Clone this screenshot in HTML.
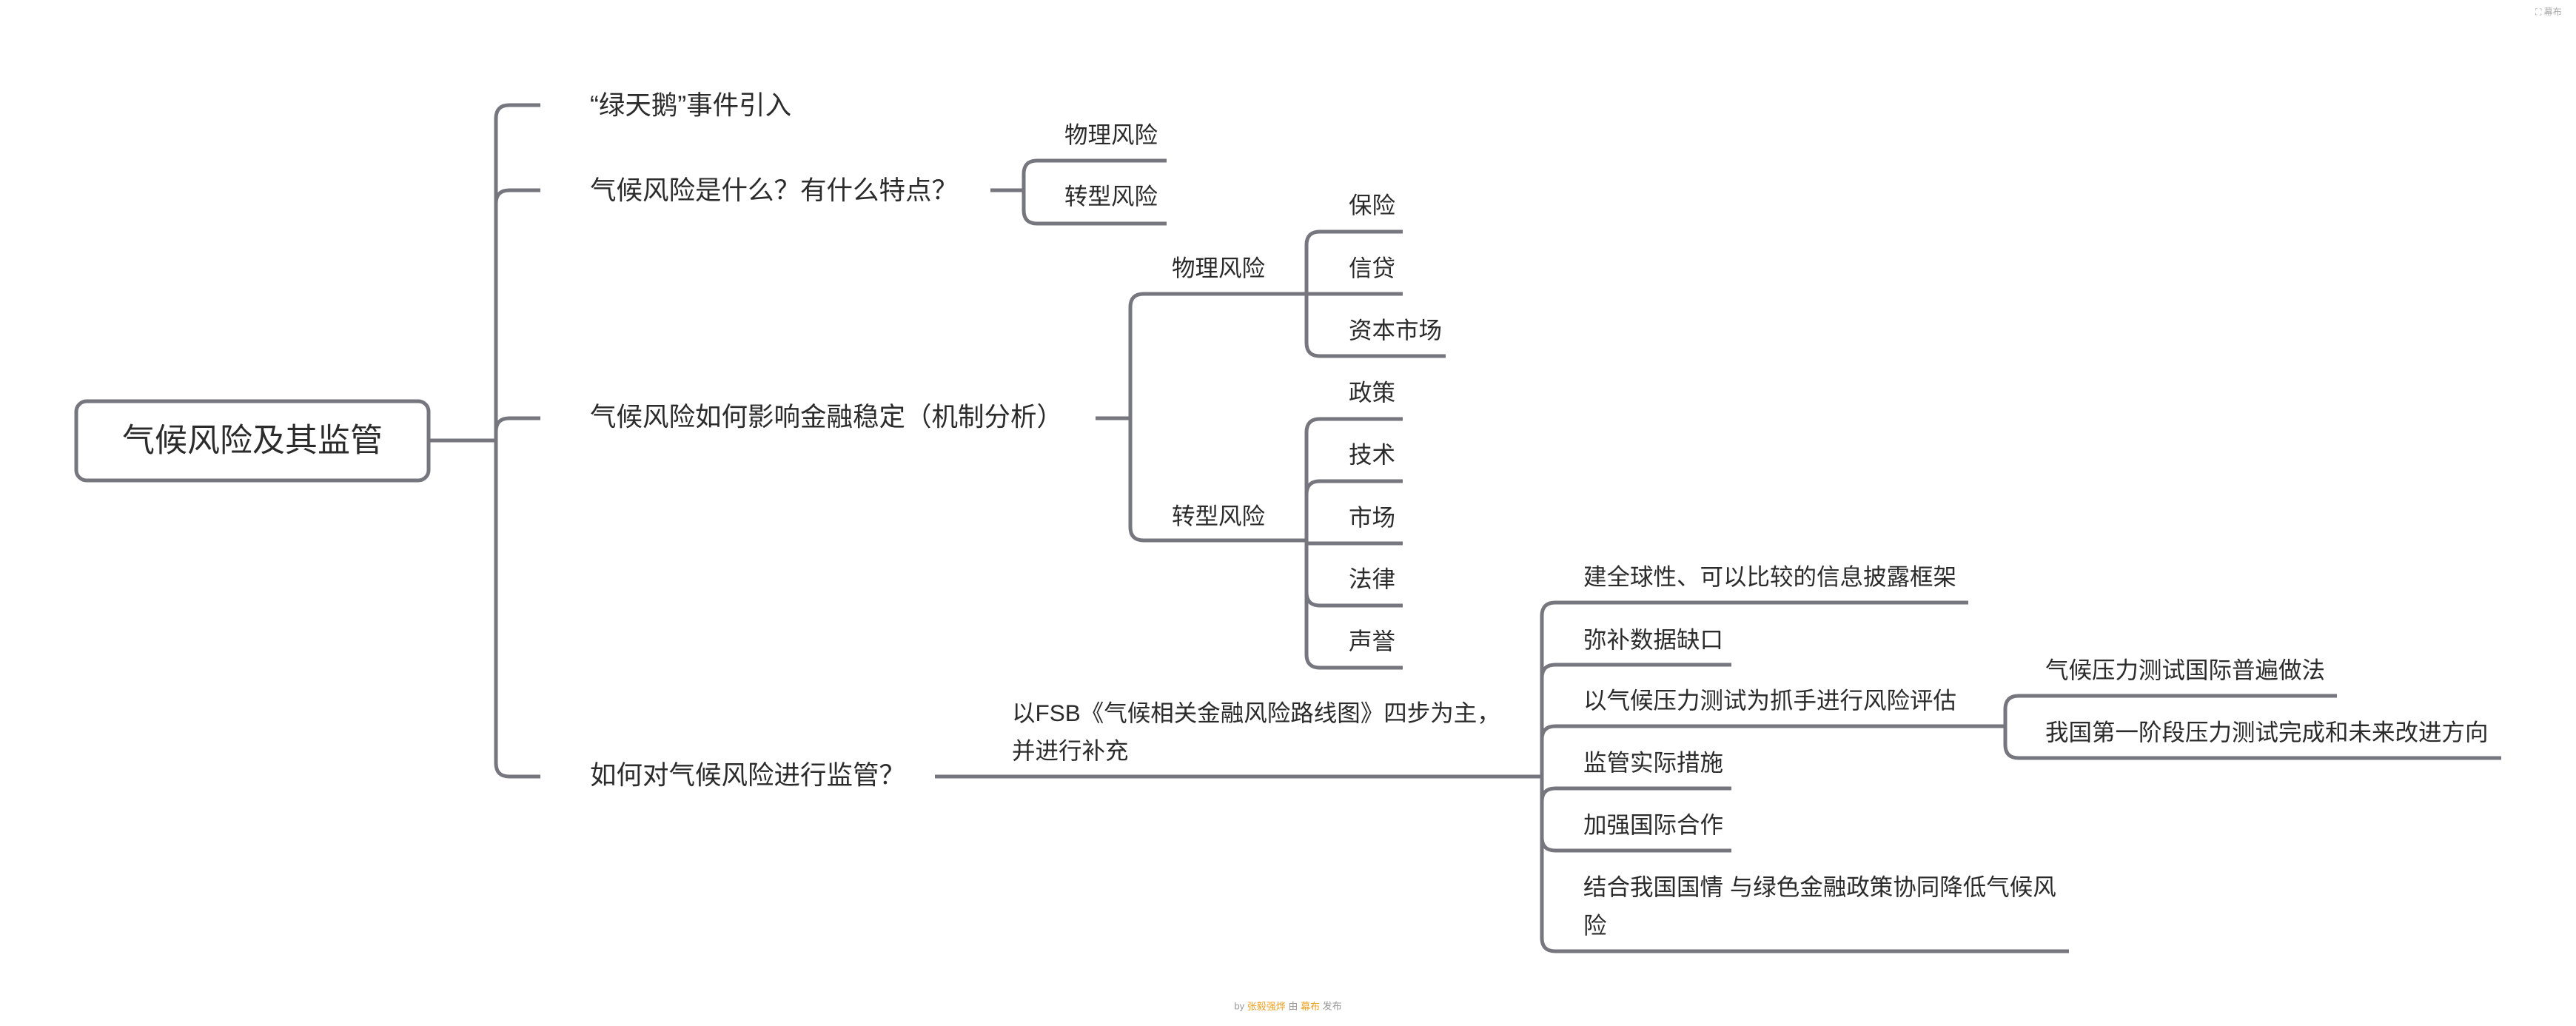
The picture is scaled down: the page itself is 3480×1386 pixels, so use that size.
<!DOCTYPE html>
<html><head><meta charset="utf-8"><style>
html,body{margin:0;padding:0;background:#fff;width:3480px;height:1386px;overflow:hidden}
svg{display:block}
text{font-family:"Liberation Sans","Noto Sans CJK SC",sans-serif;fill:#2b2b2b;dominant-baseline:central}
.l1{font-size:35.5px}.l2{font-size:31.5px}
path,line{stroke:#76767e;stroke-width:5;fill:none}
</style></head><body>
<svg width="3480" height="1386" viewBox="0 0 3480 1386">
<g transform="translate(0,2)">
<rect x="103" y="540" width="476" height="107" rx="14" fill="#fff" stroke="#76767e" stroke-width="5"/>
<text x="341" y="593" font-size="44" text-anchor="middle">气候风险及其监管</text>
<path d="M579,593 H670"/>
<path d="M670,593 V158 Q670,140 688,140 H730"/>
<path d="M670,593 V273 Q670,255 688,255 H730"/>
<path d="M670,593 V581 Q670,563 688,563 H730"/>
<path d="M670,593 V1029 Q670,1047 688,1047 H730"/>
<text class="l1" x="797" y="140">“绿天鹅”事件引入</text>
<text class="l1" x="797" y="255">气候风险是什么？有什么特点？</text>
<text class="l1" x="797" y="561">气候风险如何影响金融稳定（机制分析）</text>
<text class="l1" x="797" y="1045">如何对气候风险进行监管？</text>

<path d="M1338,255 H1383"/>
<path d="M1383,255 V233 Q1383,215 1401,215 H1576"/>
<path d="M1383,255 V282 Q1383,300 1401,300 H1576"/>
<text class="l2" x="1438" y="180">物理风险</text>
<text class="l2" x="1438" y="263">转型风险</text>

<path d="M1480,563 H1527"/>
<path d="M1527,563 V413 Q1527,395 1545,395 H1765"/>
<path d="M1527,563 V710 Q1527,728 1545,728 H1765"/>
<text class="l2" x="1583" y="360">物理风险</text>
<text class="l2" x="1583" y="695">转型风险</text>
<path d="M1765,395 V329 Q1765,311 1783,311 H1895"/>
<path d="M1765,395 H1895"/>
<path d="M1765,395 V461 Q1765,479 1783,479 H1953"/>
<text class="l2" x="1822" y="275">保险</text>
<text class="l2" x="1822" y="360">信贷</text>
<text class="l2" x="1822" y="444">资本市场</text>
<path d="M1765,728 V582 Q1765,564 1783,564 H1895"/>
<path d="M1765,728 V666 Q1765,648 1783,648 H1895"/>
<path d="M1765,728 V732 H1895"/>
<path d="M1765,728 V798 Q1765,816 1783,816 H1895"/>
<path d="M1765,728 V882 Q1765,900 1783,900 H1895"/>
<text class="l2" x="1822" y="528">政策</text>
<text class="l2" x="1822" y="612">技术</text>
<text class="l2" x="1822" y="697">市场</text>
<text class="l2" x="1822" y="780">法律</text>
<text class="l2" x="1822" y="864">声誉</text>

<path d="M1263,1047 H2083"/>
<text class="l2" x="1367" y="961">以FSB《气候相关金融风险路线图》四步为主，</text>
<text class="l2" x="1367" y="1012">并进行补充</text>
<path d="M2083,1047 V830 Q2083,812 2101,812 H2659"/>
<path d="M2083,1047 V914 Q2083,896 2101,896 H2339"/>
<path d="M2083,1047 V997 Q2083,979 2101,979 H2709"/>
<path d="M2083,1047 V1081 Q2083,1063 2101,1063 H2339"/>
<path d="M2083,1047 V1129 Q2083,1147 2101,1147 H2339"/>
<path d="M2083,1047 V1265 Q2083,1283 2101,1283 H2795"/>
<text class="l2" x="2139" y="777">建全球性、可以比较的信息披露框架</text>
<text class="l2" x="2139" y="862">弥补数据缺口</text>
<text class="l2" x="2139" y="944">以气候压力测试为抓手进行风险评估</text>
<text class="l2" x="2139" y="1028">监管实际措施</text>
<text class="l2" x="2139" y="1112">加强国际合作</text>
<text class="l2" x="2139" y="1196">结合我国国情 与绿色金融政策协同降低气候风</text>
<text class="l2" x="2139" y="1248">险</text>
<path d="M2709,979 V956 Q2709,938 2727,938 H3157"/>
<path d="M2709,979 V1004 Q2709,1022 2727,1022 H3379"/>
<text class="l2" x="2763" y="903">气候压力测试国际普遍做法</text>
<text class="l2" x="2763" y="987">我国第一阶段压力测试完成和未来改进方向</text>
</g>
<text x="1740" y="1359" font-size="13" text-anchor="middle" style="fill:#999">by <tspan style="fill:#f0a020">张毅强烨</tspan> 由 <tspan style="fill:#f0a020">幕布</tspan> 发布</text>
<text x="3425" y="16" font-size="12" style="fill:#aaa">⛶ 幕布</text>
</svg>
</body></html>
